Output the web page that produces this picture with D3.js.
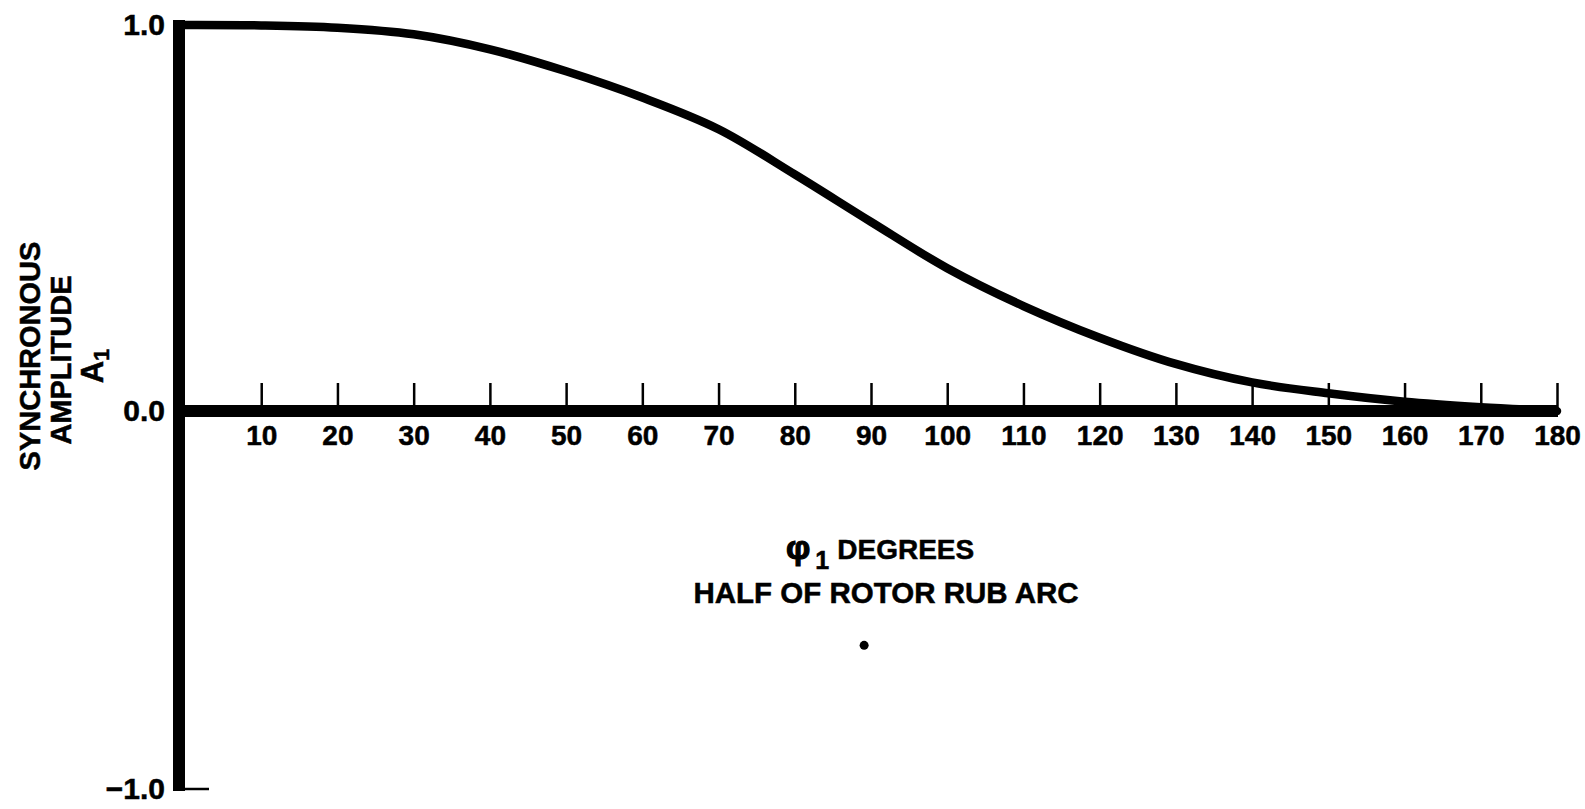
<!DOCTYPE html>
<html>
<head>
<meta charset="utf-8">
<script src="https://cdn.jsdelivr.net/npm/d3@7"></script>
<style>
  body { margin: 0; background: #fff; }
  text { font-family: "Liberation Sans", Arial, sans-serif; font-weight: bold; fill: #000; stroke: #000; stroke-width: 0.5px; }
</style>
</head>
<body>
<div id="chart"></div>
<script>
// half rub arc in degrees, and the amplitude
var phi = [0, 10, 20, 30, 40, 50, 60, 70, 80, 90, 100, 110, 120, 130, 140, 150, 160, 170, 180];
var amp = [1.0, 0.999, 0.993, 0.976, 0.937, 0.88, 0.812, 0.73, 0.613, 0.49, 0.37, 0.272, 0.19, 0.122, 0.074, 0.046, 0.024, 0.01, 0.0];

var xTicks = [10, 20, 30, 40, 50, 60, 70, 80, 90, 100, 110, 120, 130, 140, 150, 160, 170, 180];
var yTicks = [1.0, 0.0, -1.0];

// stray dot on the scan
var speck = [{ x: 89.1, y: -0.62 }];

var width = 1585;
var height = 809;

var x = d3.scaleLinear()
    .domain([0, 180])
    .range([185, 1557]);

// the printed scale is a little shorter below zero
var y = d3.scaleLinear()
    .domain([-1, 0, 1])
    .range([789, 411, 25]);

var svg = d3.select("#chart").append("svg")
    .attr("width", width)
    .attr("height", height);

// thick y axis
svg.append("line")
    .attr("x1", x(0) - 6).attr("x2", x(0) - 6)
    .attr("y1", y(1) - 5).attr("y2", y(-1) + 2)
    .attr("stroke", "#000")
    .attr("stroke-width", 12);

// small foot at -1.0
svg.append("line")
    .attr("x1", x(0) - 2).attr("x2", x(0) + 24)
    .attr("y1", y(-1)).attr("y2", y(-1))
    .attr("stroke", "#000")
    .attr("stroke-width", 2.5);

// x axis, ticks pointing up
var xAxis = svg.append("g")
    .attr("transform", `translate(0,${y(0)})`)
    .call(d3.axisBottom(x).tickValues(xTicks).tickSizeInner(-28).tickSizeOuter(0).tickPadding(14))
    .call(g => g.select(".domain").remove());

xAxis.selectAll(".tick line")
    .attr("stroke", "#000")
    .attr("stroke-width", 2.5);

xAxis.selectAll(".tick text")
    .style("font-family", "'Liberation Sans', Arial, sans-serif")
    .style("font-weight", "bold")
    .style("font-size", "28px")
    .style("stroke", "#000")
    .style("stroke-width", "0.5px")
    .attr("fill", "#000");

svg.append("line")
    .attr("x1", x(0) - 12).attr("x2", x(180) + 1)
    .attr("y1", y(0)).attr("y2", y(0))
    .attr("stroke", "#000")
    .attr("stroke-width", 12);

// y tick labels
var yAxis = svg.append("g")
    .attr("transform", `translate(${x(0) - 20},0)`)
    .call(d3.axisLeft(y).tickValues(yTicks).tickSize(0).tickPadding(0).tickFormat(d3.format(".1f")))
    .call(g => g.select(".domain").remove());

yAxis.selectAll(".tick text")
    .style("font-family", "'Liberation Sans', Arial, sans-serif")
    .style("font-weight", "bold")
    .style("font-size", "30px")
    .style("stroke", "#000")
    .style("stroke-width", "0.5px")
    .attr("fill", "#000");

// the curve
var line = d3.line()
    .x(function (d, i) { return x(phi[i]) })
    .y(function (d) { return y(d) })
    .curve(d3.curveCatmullRom.alpha(0.5));

svg.append("path")
    .datum(amp)
    .attr("fill", "none")
    .attr("stroke", "#000")
    .attr("stroke-width", 8.5)
    .attr("stroke-linecap", "round")
    .attr("d", line);

svg.selectAll(".speck")
    .data(speck)
    .enter().append("circle")
    .attr("class", "speck")
    .attr("cx", d => x(d.x))
    .attr("cy", d => y(d.y))
    .attr("r", 4.5)
    .attr("fill", "#000");

// y title
svg.append("text")
    .attr("transform", "translate(40,356) rotate(-90)")
    .attr("text-anchor", "middle")
    .style("font-size", "29px")
    .text("SYNCHRONOUS");

svg.append("text")
    .attr("transform", "translate(71,360) rotate(-90)")
    .attr("text-anchor", "middle")
    .style("font-size", "29px")
    .text("AMPLITUDE");

var a1 = svg.append("text")
    .attr("transform", "translate(103,366) rotate(-90)")
    .attr("text-anchor", "middle")
    .style("font-size", "31px");
a1.append("tspan").text("A");
a1.append("tspan").attr("dy", 6).style("font-size", "22px").text("1");

// x title
var xt = svg.append("text")
    .attr("x", 786)
    .attr("y", 559);
xt.append("tspan").style("font-size", "34px").style("stroke-width", "1.2px").text("φ");
xt.append("tspan").attr("dx", 5).attr("dy", 10).style("font-size", "25px").text("1");
xt.append("tspan").attr("dx", 8).attr("dy", -10).style("font-size", "28px").text("DEGREES");

svg.append("text")
    .attr("x", 886)
    .attr("y", 603)
    .attr("text-anchor", "middle")
    .style("font-size", "29.5px")
    .text("HALF OF ROTOR RUB ARC");
</script>
</body>
</html>
